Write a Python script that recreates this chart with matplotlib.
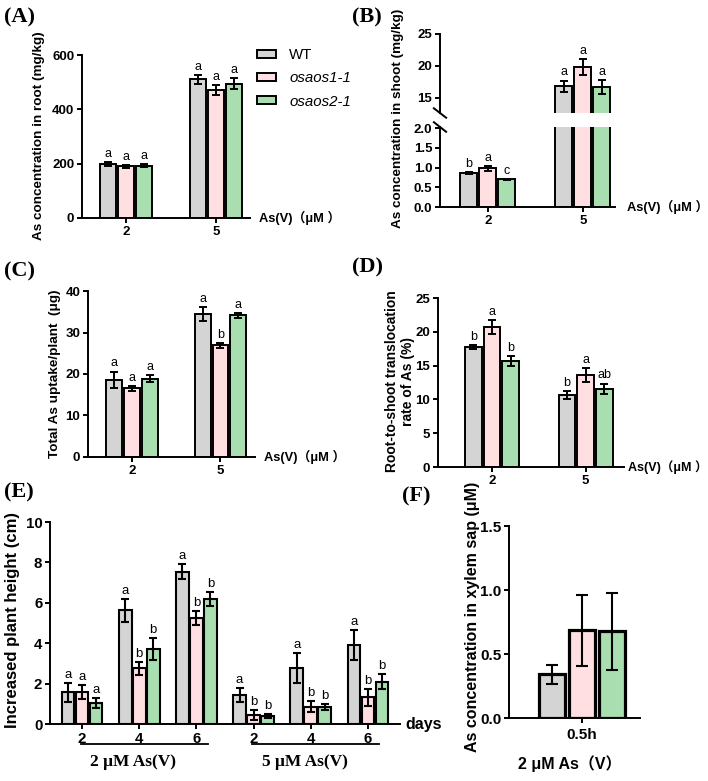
import matplotlib
matplotlib.use("Agg")
import matplotlib.pyplot as plt
import numpy as np
from matplotlib.patches import Patch
from matplotlib.transforms import blended_transform_factory

plt.rcParams['font.family'] = ['Liberation Sans', 'Noto Sans CJK SC', 'DejaVu Sans']
plt.rcParams['font.weight'] = 'bold'

W, H = 708, 781
fig = plt.figure(figsize=(W / 100, H / 100), dpi=100)

def rect(l, r, t, b):
    return [l / W, 1 - b / H, (r - l) / W, (b - t) / H]

# ---------------- data ----------------
genotypes = ["WT", "osaos1-1", "osaos2-1"]
colors = ["#D4D4D4", "#FFDFE1", "#A9DEB1"]
conc = ["2", "5"]

root_mean = [[198, 510], [190, 470], [193, 495]]
root_err = [[8, 15], [6, 19], [5, 21]]
root_sig = [["a", "a"], ["a", "a"], ["a", "a"]]

shoot_mean = [[0.87, 16.8], [0.98, 19.8], [0.70, 16.7]]
shoot_err = [[0.02, 0.9], [0.06, 1.3], [0.02, 1.1]]
shoot_sig = [["b", "a"], ["a", "a"], ["c", "a"]]

uptake_mean = [[18.6, 34.4], [16.6, 26.9], [18.9, 34.1]]
uptake_err = [[2.0, 1.7], [0.6, 0.55], [0.75, 0.55]]
uptake_sig = [["a", "a"], ["a", "b"], ["a", "a"]]

trans_mean = [[17.8, 10.7], [20.7, 13.6], [15.7, 11.6]]
trans_err = [[0.3, 0.6], [1.0, 1.0], [0.7, 0.75]]
trans_sig = [["b", "b"], ["a", "a"], ["b", "ab"]]

days = ["2", "4", "6", "2", "4", "6"]
height_mean = [[1.56, 5.62, 7.53, 1.43, 2.78, 3.92],
               [1.60, 2.75, 5.26, 0.44, 0.86, 1.32],
               [1.05, 3.70, 6.18, 0.40, 0.84, 2.10]]
height_err = [[0.45, 0.57, 0.37, 0.35, 0.73, 0.74],
              [0.35, 0.33, 0.35, 0.25, 0.28, 0.41],
              [0.25, 0.55, 0.33, 0.10, 0.15, 0.36]]
height_sig = [["a", "a", "a", "a", "a", "a"],
              ["a", "b", "b", "b", "b", "b"],
              ["a", "b", "b", "b", "b", "b"]]
height_groups = ["2 μM As(V)", "5 μM As(V)"]

xylem_mean = [0.34, 0.685, 0.677]
xylem_err = [0.075, 0.275, 0.30]
xylem_label = "0.5h"

# ---------------- helpers ----------------
LW = 1.4
TICK = 9.5
YLAB = 9.7
SIG = 9

def style(ax, ticksize=TICK):
    for s in ['top', 'right']:
        ax.spines[s].set_visible(False)
    for s in ['left', 'bottom']:
        ax.spines[s].set_linewidth(LW)
    ax.tick_params(width=LW, length=3.5, labelsize=ticksize, pad=2)
    for lab in ax.get_xticklabels() + ax.get_yticklabels():
        lab.set_fontweight('bold')

def grouped(ax, means, errs, sigs, step=0.2, width=0.18, capsize=2.8, lw=1.4, sigsize=SIG):
    n = len(means[0])
    x = np.arange(n)
    lo, hi = ax.get_ylim()
    for i, (m, e) in enumerate(zip(means, errs)):
        xi = x + (i - 1) * step
        ax.bar(xi, m, width, color=colors[i], edgecolor='black', linewidth=lw,
               yerr=e, capsize=capsize,
               error_kw=dict(elinewidth=lw, capthick=lw, ecolor='black'), zorder=2)
        if sigs is not None:
            for xx, mm, ee, ss in zip(xi, m, e, sigs[i]):
                if lo <= mm + ee <= hi:
                    ax.annotate(ss, (xx, mm + ee), xytext=(0, 1.5), textcoords='offset points',
                                ha='center', va='bottom', fontsize=sigsize, fontweight='normal',
                                annotation_clip=False)
    return x

def xunit_label(x, y, size=9.3):
    fig.text(x / W, 1 - y / H, "As(V)（μM ）", ha='left', va='center', fontsize=size,
             fontweight='bold')

def ylab(x, y, s, size=YLAB):
    fig.text(x / W, 1 - y / H, s, rotation=90, ha='center', va='center', fontsize=size,
             fontweight='bold', multialignment='center')

def panel(x, y, s):
    fig.text(x / W, 1 - y / H, s, ha='left', va='center', fontsize=16, fontweight='bold',
             family='Liberation Serif')

# ---------------- (A) ----------------
axA = fig.add_axes(rect(82, 250, 55, 218))
axA.set_ylim(0, 600)
x = grouped(axA, root_mean, root_err, root_sig)
axA.set_yticks([0, 200, 400, 600])
axA.set_xlim(-0.49, 1.38)
axA.set_xticks(x)
axA.set_xticklabels(conc)
style(axA)
ylab(39, 136, "As concentration in root (mg/kg)")
xunit_label(259, 218)
panel(4, 17, "(A)")
handles = [Patch(facecolor=c, edgecolor='black', linewidth=1.4) for c in colors]
leg = fig.legend(handles, genotypes, loc='upper left', bbox_to_anchor=(257 / W, 1 - 48 / H),
                 frameon=False, fontsize=10.8, handlelength=1.25, handleheight=0.45,
                 labelspacing=0.62, handletextpad=0.9, borderpad=0, borderaxespad=0)
for i, t in enumerate(leg.get_texts()):
    t.set_fontweight('normal')
    if i > 0:
        t.set_fontstyle('italic')

# ---------------- (B) broken axis ----------------
axBt = fig.add_axes(rect(440, 615, 34, 113))
axBb = fig.add_axes(rect(440, 615, 127, 207))
axBt.set_ylim(12.6, 25)
axBb.set_ylim(0, 2.03)
grouped(axBt, shoot_mean, shoot_err, shoot_sig)
xb = grouped(axBb, shoot_mean, shoot_err, shoot_sig)
axBt.set_yticks([15, 20, 25])
axBb.set_yticks([0, 0.5, 1.0, 1.5, 2.0])
axBb.set_yticklabels(["0.0", "0.5", "1.0", "1.5", "2.0"])
for a in (axBt, axBb):
    a.set_xlim(-0.505, 1.34)
axBb.set_xticks(xb)
axBb.set_xticklabels(conc)
style(axBt)
style(axBb)
axBt.spines['bottom'].set_visible(False)
axBt.set_xticks([])
axBt.plot([-0.035, 0.035], [0.06, -0.06], transform=axBt.transAxes, color='black', lw=LW,
          clip_on=False)
axBb.plot([-0.035, 0.035], [1.06, 0.94], transform=axBb.transAxes, color='black', lw=LW,
          clip_on=False)
ylab(398, 118, "As concentration in shoot (mg/kg)")
xunit_label(627, 207)
panel(352, 17, "(B)")

# ---------------- (C) ----------------
axC = fig.add_axes(rect(88, 255, 291, 457))
axC.set_ylim(0, 40)
x = grouped(axC, uptake_mean, uptake_err, uptake_sig)
axC.set_yticks([0, 10, 20, 30, 40])
axC.set_xlim(-0.497, 1.39)
axC.set_xticks(x)
axC.set_xticklabels(conc)
style(axC)
ylab(55, 374, "Total As uptake/plant  (μg)")
xunit_label(264, 457)
panel(4, 271, "(C)")

# ---------------- (D) ----------------
axD = fig.add_axes(rect(438, 624, 298, 467))
axD.set_ylim(0, 25)
x = grouped(axD, trans_mean, trans_err, trans_sig)
axD.set_yticks([0, 5, 10, 15, 20, 25])
axD.set_xlim(-0.578, 1.41)
axD.set_xticks(x)
axD.set_xticklabels(conc)
style(axD)
ylab(400, 381, "Root-to-shoot translocation\nrate of As (%)", size=10)
xunit_label(628, 467, size=9.0)
panel(352, 267, "(D)")

# ---------------- (E) ----------------
axE = fig.add_axes(rect(50, 400, 522, 724))
axE.set_ylim(0, 10)
x = grouped(axE, height_mean, height_err, height_sig, step=0.245, width=0.225,
            capsize=3.0, lw=1.5, sigsize=9.5)
axE.set_yticks([0, 2, 4, 6, 8, 10])
axE.set_xlim(-0.56, 5.56)
axE.set_xticks(x)
axE.set_xticklabels(days)
style(axE, ticksize=10.8)
ylab(13, 620, "Increased plant height (cm)", size=12)
fig.text(405 / W, 1 - 724 / H, "days", ha='left', va='center', fontsize=11.5, fontweight='bold')
trE = blended_transform_factory(axE.transData, fig.transFigure)
for g, lbl in enumerate(height_groups):
    x0 = x[3 * g] - 0.02
    x1 = x[3 * g + 2] + 0.2
    axE.plot([x0, x1], [1 - 744 / H] * 2, transform=trE, color='black', lw=1.3, clip_on=False)
    t = fig.text(0, 1 - 762 / H, lbl, transform=trE, ha='center', va='center', fontsize=12.5,
                 fontweight='bold', family='Liberation Serif')
    t.set_x((x0 + x1) / 2 - 0.2)
panel(4, 492, "(E)")

# ---------------- (F) ----------------
axF = fig.add_axes(rect(509, 640, 526, 718))
xf = np.arange(len(xylem_mean)) - 1
for i in range(len(xylem_mean)):
    axF.bar(xf[i], xylem_mean[i], 0.85, color=colors[i], edgecolor='black', linewidth=2.3,
            yerr=xylem_err[i], capsize=4.3,
            error_kw=dict(elinewidth=1.5, capthick=1.5, ecolor='black'), zorder=2)
axF.set_ylim(0, 1.5)
axF.set_yticks([0, 0.5, 1.0, 1.5])
axF.set_yticklabels(["0.0", "0.5", "1.0", "1.5"])
axF.set_xlim(-2.43, 1.93)
axF.set_xticks([0])
axF.set_xticklabels([xylem_label])
style(axF, ticksize=11)
axF.tick_params(axis='x', pad=4)
ylab(472, 617, "As concentration in xylem sap (μM)", size=11.5)
fig.text(570 / W, 1 - 764 / H, "2 μM As（V）", ha='center', va='center', fontsize=11.5,
         fontweight='bold')
panel(402, 496, "(F)")

fig.savefig("out.png", dpi=100, facecolor='white')
